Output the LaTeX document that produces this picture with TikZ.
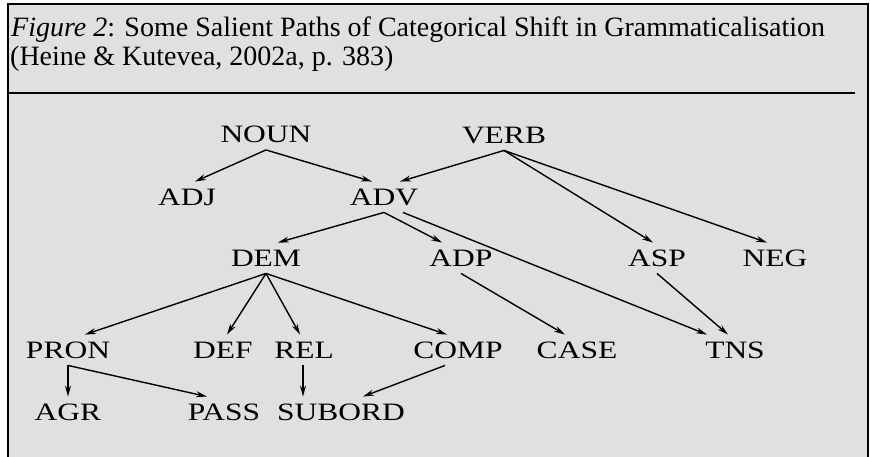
\documentclass[tikz,border=0pt]{standalone}
\usepackage{fontspec}
\setmainfont{Liberation Serif}
\newfontfamily\catfont[FakeStretch=1.26]{Liberation Serif}
\usetikzlibrary{arrows.meta}
\begin{document}
\begin{tikzpicture}[x=1pt, y=-1pt,
    cat/.style={font=\catfont\fontsize{25}{25}\selectfont, text height=16.5pt, text depth=0pt, inner xsep=0pt, inner ysep=7pt},
    path/.style={-{Stealth[length=11pt, width=6pt]}, line width=1.4pt}]  %categorical shift
    \useasboundingbox (0,0) rectangle (870,457);
    \fill[black!12] (8,4) rectangle (868,457);
    \draw[line width=2pt] (8,457) -- (8,4) -- (868,4) -- (868,457);
    \draw[line width=2.2pt] (8,93) -- (855,93);
    \node[anchor=base west, inner sep=0pt, font=\fontsize{28}{29}\selectfont] (title) at (11,37) {\textit{Figure 2}: Some Salient Paths of Categorical Shift in Grammaticalisation};
    \node[anchor=base west, inner sep=0pt, font=\fontsize{28}{29}\selectfont] (source) at (10,66) {(Heine \& Kutevea, 2002a, p. 383)};
    % categories
    \node[cat] (noun) at (266,134.5) {NOUN};
    \node[cat] (verb) at (504,135) {VERB};
    \node[cat] (adj) at (187,197) {ADJ};
    \node[cat] (adv) at (384,197) {ADV};
    \node[cat] (dem) at (266,258) {DEM};
    \node[cat] (adp) at (461,258) {ADP};
    \node[cat] (asp) at (657,258) {ASP};
    \node[cat] (neg) at (775,258) {NEG};
    \node[cat] (pron) at (68,350) {PRON};
    \node[cat] (def) at (223,350) {DEF};
    \node[cat] (rel) at (304,350) {REL};
    \node[cat] (comp) at (458,350) {COMP};
    \node[cat] (case) at (577,350) {CASE};
    \node[cat] (tns) at (735,350) {TNS};
    \node[cat] (agr) at (68,412) {AGR};
    \node[cat] (pass) at (224,412) {PASS};
    \node[cat] (subord) at (341,412) {SUBORD};
    % paths
    \draw[path] (noun.south) -- ([xshift=8pt]adj.north);
    \draw[path] (noun.south) -- ([xshift=-12pt]adv.north);
    \draw[path] (verb.south) -- ([xshift=16pt]adv.north);
    \draw[path] (verb.south) -- ([xshift=-4pt]asp.north);
    \draw[path] (verb.south) -- ([xshift=-8pt]neg.north);
    \draw[path] (adv.south) -- ([xshift=12pt]dem.north);
    \draw[path] (adv.south) -- ([xshift=-19pt]adp.north);
    \draw[path] ([xshift=19pt]adv.south) -- ([xshift=-28pt]tns.north);
    \draw[path] (dem.south) -- ([xshift=17pt]pron.north);
    \draw[path] (dem.south) -- ([xshift=4pt]def.north);
    \draw[path] (dem.south) -- ([xshift=-4pt]rel.north);
    \draw[path] (dem.south) -- ([xshift=-11pt]comp.north);
    \draw[path] (adp.south) -- ([xshift=-12pt]case.north);
    \draw[path] (asp.south) -- ([xshift=-7pt]tns.north);
    \draw[path] (pron.south) -- (agr.north);
    \draw[path] (pron.south) -- ([xshift=-17pt]pass.north);
    \draw[path] ([xshift=-1pt]rel.south) -- ([xshift=-1pt]rel.south |- subord.north);
    \draw[path] ([xshift=-13pt]comp.south) -- ([xshift=22pt]subord.north);
\end{tikzpicture}
\end{document}
